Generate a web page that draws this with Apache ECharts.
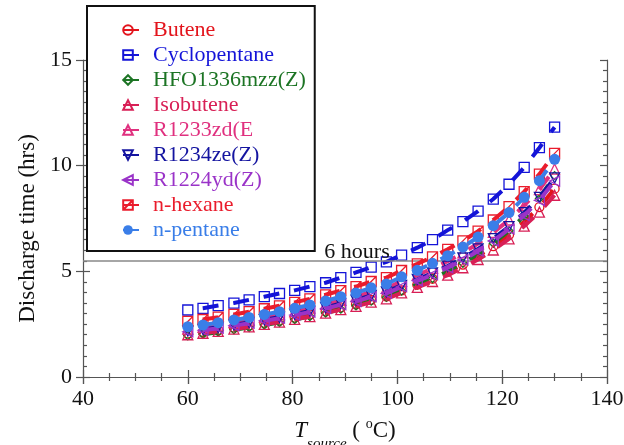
<!DOCTYPE html>
<html>
<head>
<meta charset="utf-8">
<script src="https://cdn.jsdelivr.net/npm/echarts@6/dist/echarts.min.js"></script>
<style>
  html, body { margin: 0; padding: 0; background: #fff; }
  #chart { width: 624px; height: 445px; }
</style>
</head>
<body>
<div id="chart"></div>
<script>
// source temperature (degC)
const temps = [60, 62.9, 65.8, 68.8, 71.7, 74.6, 77.5, 80.4, 83.3, 86.3, 89.2, 92.1, 95,
  97.9, 100.8, 103.8, 106.7, 109.6, 112.5, 115.4, 118.3, 121.3, 124.2, 127.1, 130];

// discharge time (hrs) per fluid
const butene = [2.06, 2.13, 2.22, 2.34, 2.44, 2.56, 2.67, 2.81, 2.95, 3.11, 3.29, 3.44, 3.65,
  3.81, 4.10, 4.37, 4.65, 4.97, 5.32, 5.73, 6.19, 6.73, 7.35, 8.04, 8.91];
const cyclopentane = [3.17, 3.25, 3.38, 3.50, 3.65, 3.80, 3.95, 4.10, 4.28, 4.46, 4.70, 4.95, 5.20,
  5.45, 5.77, 6.12, 6.50, 6.95, 7.35, 7.85, 8.42, 9.12, 9.92, 10.85, 11.82];
const hfo1336 = [1.95, 2.02, 2.12, 2.23, 2.34, 2.46, 2.58, 2.72, 2.86, 3.03, 3.21, 3.37, 3.59,
  3.77, 4.07, 4.36, 4.66, 5.00, 5.38, 5.82, 6.33, 6.92, 7.62, 8.45, 9.53];
const isobutene = [2.00, 2.07, 2.16, 2.27, 2.37, 2.49, 2.60, 2.73, 2.86, 3.02, 3.19, 3.34, 3.54,
  3.70, 3.98, 4.24, 4.52, 4.82, 5.17, 5.56, 6.01, 6.54, 7.14, 7.80, 8.60];
const r1233zd = [2.27, 2.35, 2.45, 2.58, 2.69, 2.83, 2.95, 3.10, 3.26, 3.44, 3.63, 3.80, 4.03,
  4.20, 4.53, 4.82, 5.14, 5.48, 5.87, 6.32, 6.84, 7.43, 8.12, 8.87, 9.84];
const r1234ze = [2.18, 2.25, 2.35, 2.47, 2.58, 2.71, 2.83, 2.97, 3.12, 3.29, 3.48, 3.64, 3.86,
  4.03, 4.34, 4.62, 4.92, 5.25, 5.63, 6.06, 6.55, 7.12, 7.78, 8.50, 9.42];
const r1224yd = [2.14, 2.21, 2.31, 2.43, 2.54, 2.66, 2.78, 2.93, 3.07, 3.24, 3.42, 3.58, 3.80,
  3.96, 4.27, 4.55, 4.84, 5.17, 5.54, 5.96, 6.44, 7.00, 7.65, 8.36, 9.27];
const nHexane = [2.63, 2.72, 2.83, 2.96, 3.09, 3.23, 3.37, 3.53, 3.70, 3.89, 4.09, 4.28, 4.52,
  4.70, 5.04, 5.35, 5.68, 6.04, 6.44, 6.90, 7.43, 8.06, 8.77, 9.60, 10.58];
const nPentane = [2.38, 2.46, 2.57, 2.70, 2.82, 2.96, 3.09, 3.25, 3.41, 3.60, 3.80, 3.98, 4.22,
  4.40, 4.74, 5.05, 5.38, 5.74, 6.15, 6.62, 7.16, 7.78, 8.50, 9.29, 10.30];

const sixHourLevel = 5.5;
const xTicks = [40, 140, 20];
const yTicks = [0, 15, 5];

const serif = 'Liberation Serif';
const axisColor = '#555';
const hollow = 'rgba(255,255,255,0)';

const hexSquare = 'path://M0,0 L10,0 L10,10 L0,10 Z M0,10 L10,0';

const fluids = [
  {name: 'Butene', data: butene, color: '#e3141c', symbol: 'circle', size: 9},
  {name: 'Cyclopentane', data: cyclopentane, color: '#1414d8', symbol: 'rect', size: 10},
  {name: 'HFO1336mzz(Z)', data: hfo1336, color: '#1c7424', symbol: 'diamond', size: 8},
  {name: 'Isobutene', data: isobutene, color: '#d81f55', symbol: 'triangle', size: 10},
  {name: 'R1233zd(E', data: r1233zd, color: '#e0307f', symbol: 'triangle', size: 10},
  {name: 'R1234ze(Z)', data: r1234ze, color: '#1414a0', symbol: 'triangle', size: 10, rotate: 180},
  {name: 'R1224yd(Z)', data: r1224yd, color: '#9a33c8', symbol: 'triangle', size: 10, rotate: 90},
  {name: 'n-hexane', data: nHexane, color: '#ea1c2c', symbol: hexSquare, size: 10},
  {name: 'n-pentane', data: nPentane, color: '#3a7ee8', symbol: 'circle', size: 11, filled: true}
];

const chart = echarts.init(document.getElementById('chart'));

const series = fluids.map((f, i) => {
  const s = {
    name: f.name,
    type: 'line',
    xAxisIndex: 0,
    yAxisIndex: 0,
    data: temps.map((t, k) => [t, f.data[k]]),
    symbol: f.symbol,
    symbolSize: f.size,
    symbolRotate: f.rotate || 0,
    showAllSymbol: true,
    lineStyle: {color: f.color, width: 4, type: [16, 15], dashOffset: 16},
    itemStyle: f.filled
      ? {color: f.color}
      : {color: hollow, borderColor: f.color, borderWidth: 1.3},
    emphasis: {disabled: true},
    z: 2 + i
  };
  if (i === 0) {
    s.markLine = {
      silent: true,
      symbol: 'none',
      lineStyle: {color: '#888', width: 1.5, type: 'solid'},
      label: {
        show: true, formatter: '6 hours', position: 'insideMiddleTop',
        fontFamily: serif, fontSize: 22, color: '#111', offset: [12, 7]
      },
      data: [{yAxis: sixHourLevel}]
    };
  }
  return s;
});

const tickLine = {color: axisColor, width: 1.2};

chart.setOption({
  animation: false,
  backgroundColor: '#fff',
  grid: {left: 83, right: 17, top: 60, bottom: 68, outerBoundsMode: 'none', containLabel: false},
  legend: {
    orient: 'vertical',
    left: 87,
    top: 6,
    backgroundColor: '#fff',
    borderColor: '#111',
    borderWidth: 2,
    padding: [13, 9, 10, 20],
    itemGap: 3,
    itemWidth: 40,
    itemHeight: 12,
    textStyle: {fontFamily: serif, fontSize: 22, lineHeight: 22},
    data: fluids.map(f => ({name: f.name, textStyle: {color: f.color}})),
    selectedMode: false
  },
  xAxis: [
    {
      type: 'value', position: 'bottom', min: xTicks[0], max: xTicks[1], interval: xTicks[2],
      axisLine: {show: true, lineStyle: tickLine},
      axisTick: {show: true, inside: false, length: 7, lineStyle: tickLine},
      axisLabel: {fontFamily: serif, fontSize: 22, color: '#111', margin: 11},
      splitLine: {show: false},
      name: '{t|T}{s|source}{p| ( }{o|o}{p|C)}',
      nameLocation: 'middle',
      nameGap: 40,
      nameTextStyle: {
        fontFamily: serif, color: '#111',
        rich: {
          t: {fontFamily: serif, fontSize: 23, fontStyle: 'italic', color: '#111', verticalAlign: 'top', padding: [2, 0, 0, 0], lineHeight: 24},
          s: {fontFamily: serif, fontSize: 15, fontStyle: 'italic', color: '#111', verticalAlign: 'top', padding: [20, 0, 0, 0], lineHeight: 15},
          p: {fontFamily: serif, fontSize: 23, color: '#111', verticalAlign: 'top', padding: [2, 0, 0, 0], lineHeight: 24},
          o: {fontFamily: serif, fontSize: 14, color: '#111', verticalAlign: 'top', padding: [0, 0, 0, 0], lineHeight: 14}
        }
      }
    },
    {
      type: 'value', position: 'bottom', offset: 0, min: xTicks[0], max: xTicks[1], interval: xTicks[2],
      axisLine: {show: false},
      axisTick: {show: true, inside: true, length: 7, lineStyle: tickLine},
      minorTick: {show: true, splitNumber: 4, length: 4, lineStyle: tickLine},
      axisLabel: {show: false},
      splitLine: {show: false}
    },
    {
      type: 'value', position: 'top', min: xTicks[0], max: xTicks[1], interval: xTicks[2],
      axisLine: {show: true, lineStyle: tickLine},
      axisTick: {show: true, inside: true, length: 7, lineStyle: tickLine},
      minorTick: {show: true, splitNumber: 4, length: 4, lineStyle: tickLine},
      axisLabel: {show: false},
      splitLine: {show: false}
    }
  ],
  yAxis: [
    {
      type: 'value', position: 'left', min: yTicks[0], max: yTicks[1], interval: yTicks[2],
      axisLine: {show: true, lineStyle: tickLine},
      axisTick: {show: true, inside: false, length: 7, lineStyle: tickLine},
      axisLabel: {fontFamily: serif, fontSize: 22, color: '#111', margin: 11},
      splitLine: {show: false},
      name: 'Discharge time (hrs)',
      nameLocation: 'middle',
      nameGap: 44,
      nameTextStyle: {fontFamily: serif, fontSize: 23, color: '#111', padding: [0, 20, 0, 0]}
    },
    {
      type: 'value', position: 'left', offset: 0, min: yTicks[0], max: yTicks[1], interval: yTicks[2],
      axisLine: {show: false},
      axisTick: {show: true, inside: true, length: 7, lineStyle: tickLine},
      minorTick: {show: true, splitNumber: 10, length: 4, lineStyle: tickLine},
      axisLabel: {show: false},
      splitLine: {show: false}
    },
    {
      type: 'value', position: 'right', min: yTicks[0], max: yTicks[1], interval: yTicks[2],
      axisLine: {show: true, lineStyle: tickLine},
      axisTick: {show: true, inside: true, length: 7, lineStyle: tickLine},
      minorTick: {show: true, splitNumber: 10, length: 4, lineStyle: tickLine},
      axisLabel: {show: false},
      splitLine: {show: false}
    }
  ],
  series: series
});
</script>
</body>
</html>
